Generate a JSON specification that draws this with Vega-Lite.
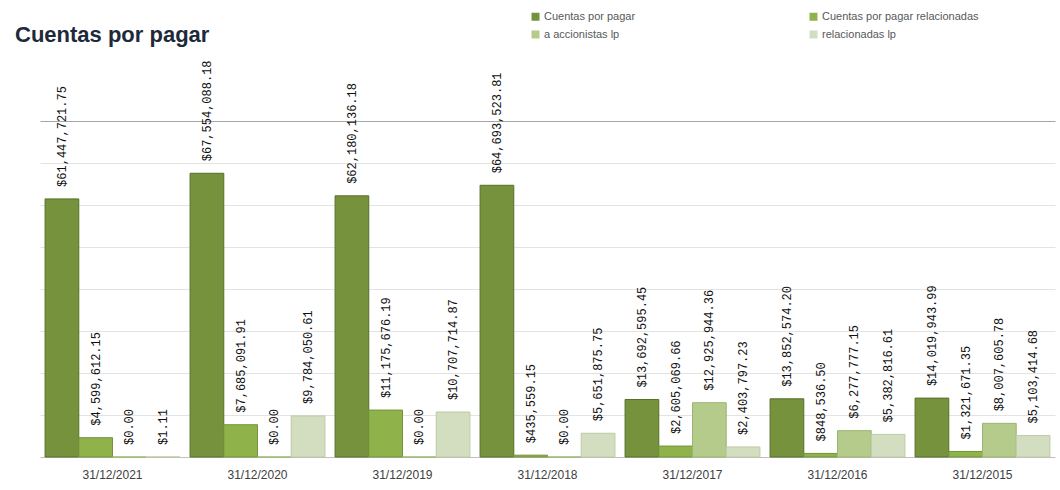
{
  "$schema": "https://vega.github.io/schema/vega-lite/v6.json",
  "width": 1015,
  "height": 336,
  "autosize": "none",
  "padding": {"left": 40, "top": 121, "right": 5, "bottom": 33},
  "background": "white",
  "config": {"view": {"stroke": null}, "font": "Liberation Sans"},
  "title": {
    "text": "Cuentas por pagar",
    "anchor": "start",
    "frame": "group",
    "fontSize": 22,
    "fontWeight": "bold",
    "color": "#1e2a3a",
    "dx": -25,
    "offset": 0,
    "dy": 36
  },
  "data": {
    "values": [
      {"fecha": "31/12/2021", "serie": "Cuentas por pagar", "valor": 61447721.75},
      {"fecha": "31/12/2021", "serie": "Cuentas por pagar relacionadas", "valor": 4599612.15},
      {"fecha": "31/12/2021", "serie": "a accionistas lp", "valor": 0},
      {"fecha": "31/12/2021", "serie": "relacionadas lp", "valor": 1.11},
      {"fecha": "31/12/2020", "serie": "Cuentas por pagar", "valor": 67554088.18},
      {"fecha": "31/12/2020", "serie": "Cuentas por pagar relacionadas", "valor": 7685091.91},
      {"fecha": "31/12/2020", "serie": "a accionistas lp", "valor": 0},
      {"fecha": "31/12/2020", "serie": "relacionadas lp", "valor": 9784050.61},
      {"fecha": "31/12/2019", "serie": "Cuentas por pagar", "valor": 62180136.18},
      {"fecha": "31/12/2019", "serie": "Cuentas por pagar relacionadas", "valor": 11175676.19},
      {"fecha": "31/12/2019", "serie": "a accionistas lp", "valor": 0},
      {"fecha": "31/12/2019", "serie": "relacionadas lp", "valor": 10707714.87},
      {"fecha": "31/12/2018", "serie": "Cuentas por pagar", "valor": 64693523.81},
      {"fecha": "31/12/2018", "serie": "Cuentas por pagar relacionadas", "valor": 435559.15},
      {"fecha": "31/12/2018", "serie": "a accionistas lp", "valor": 0},
      {"fecha": "31/12/2018", "serie": "relacionadas lp", "valor": 5651875.75},
      {"fecha": "31/12/2017", "serie": "Cuentas por pagar", "valor": 13692595.45},
      {"fecha": "31/12/2017", "serie": "Cuentas por pagar relacionadas", "valor": 2605069.66},
      {"fecha": "31/12/2017", "serie": "a accionistas lp", "valor": 12925944.36},
      {"fecha": "31/12/2017", "serie": "relacionadas lp", "valor": 2403797.23},
      {"fecha": "31/12/2016", "serie": "Cuentas por pagar", "valor": 13852574.20},
      {"fecha": "31/12/2016", "serie": "Cuentas por pagar relacionadas", "valor": 848536.50},
      {"fecha": "31/12/2016", "serie": "a accionistas lp", "valor": 6277777.15},
      {"fecha": "31/12/2016", "serie": "relacionadas lp", "valor": 5382816.61},
      {"fecha": "31/12/2015", "serie": "Cuentas por pagar", "valor": 14019943.99},
      {"fecha": "31/12/2015", "serie": "Cuentas por pagar relacionadas", "valor": 1321671.35},
      {"fecha": "31/12/2015", "serie": "a accionistas lp", "valor": 8007605.78},
      {"fecha": "31/12/2015", "serie": "relacionadas lp", "valor": 5103414.68}
    ]
  },
  "encoding": {
    "x": {
      "field": "fecha",
      "type": "nominal",
      "sort": null,
      "title": null,
      "scale": {"paddingInner": 0.07, "paddingOuter": 0.035},
      "axis": {
        "labelAngle": 0,
        "labelFontSize": 12,
        "labelColor": "#404040",
        "labelPadding": 12,
        "ticks": false,
        "domainColor": "#bfbfbf"
      }
    },
    "xOffset": {
      "field": "serie",
      "type": "nominal",
      "sort": ["Cuentas por pagar", "Cuentas por pagar relacionadas", "a accionistas lp", "relacionadas lp"],
      "scale": {"paddingInner": 0}
    },
    "y": {
      "field": "valor",
      "type": "quantitative",
      "title": null,
      "scale": {"domain": [0, 80000000], "nice": false},
      "axis": {
        "values": [10000000, 20000000, 30000000, 40000000, 50000000, 60000000, 70000000, 80000000],
        "labels": false,
        "ticks": false,
        "domain": false,
        "gridColor": {"condition": {"test": "datum.value === 80000000", "value": "#a6a6a6"}, "value": "#e3e3e3"}
      }
    }
  },
  "layer": [
    {
      "mark": {"type": "bar", "strokeWidth": 1},
      "encoding": {
        "color": {
          "field": "serie",
          "type": "nominal",
          "sort": ["Cuentas por pagar", "Cuentas por pagar relacionadas", "a accionistas lp", "relacionadas lp"],
          "scale": {"range": ["#76923c", "#8fb24b", "#b4cb8c", "#d3dec0"]},
          "title": null,
          "legend": {
            "orient": "none",
            "legendX": 490,
            "legendY": -110,
            "direction": "horizontal",
            "columns": 2,
            "columnPadding": 172,
            "rowPadding": 6,
            "symbolType": "square",
            "symbolSize": 64,
            "symbolStrokeWidth": 0,
            "labelFontSize": 11,
            "labelColor": "#595959",
            "labelOffset": 3,
            "labelLimit": 300
          }
        },
        "stroke": {
          "field": "serie",
          "type": "nominal",
          "sort": ["Cuentas por pagar", "Cuentas por pagar relacionadas", "a accionistas lp", "relacionadas lp"],
          "scale": {"range": ["#55702a", "#739438", "#9ab572", "#bccaa4"]},
          "legend": null
        }
      }
    },
    {
      "mark": {"type": "text", "angle": 270, "align": "left", "baseline": "middle", "dx": 12, "font": "Liberation Mono", "fontSize": 12, "color": "#111111"},
      "encoding": {
        "text": {"field": "valor", "type": "quantitative", "format": "$,.2f"}
      }
    }
  ]
}
